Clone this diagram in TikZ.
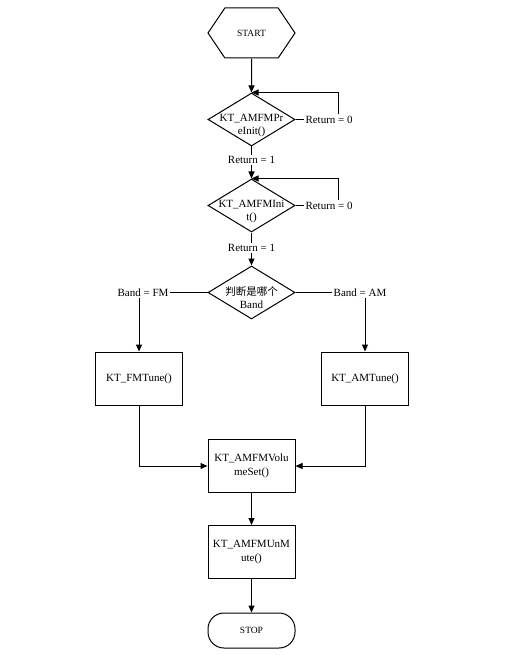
\documentclass[tikz,border=0pt]{standalone}
\usepackage{fontspec}
\setmainfont{Liberation Serif}
\newfontfamily\cjk{Noto Sans CJK SC}
\usetikzlibrary{shapes.geometric,shapes.symbols,arrows.meta}

\begin{document}
\begin{tikzpicture}[x=1pt, y=-1pt, line width=1pt,
    font=\fontsize{11}{13.5}\selectfont,
    arr/.style={-{Triangle[length=7pt,width=6pt]}},
    startbox/.style={draw, signal, signal to=east and west, signal pointer angle=112,
      minimum width=87pt, minimum height=50pt, inner sep=0pt, font=\fontsize{9.5}{11}\selectfont},
    stopbox/.style={draw, rounded corners=16pt, minimum width=87pt, minimum height=35pt,
      inner sep=0pt, font=\fontsize{9.5}{11}\selectfont},
    dec/.style={draw, diamond, minimum width=87pt, minimum height=53pt, inner sep=0pt},
    proc/.style={draw, rectangle, align=center, minimum width=87pt, minimum height=53pt, inner sep=2pt},
    lbl/.style={inner sep=1pt, fill=white},
    txt/.style={align=center, inner sep=0pt}]
  \useasboundingbox [fill=white] (0,0) rectangle (517,655);
  % start and checks
  \node [startbox] (start) at (251.5,33) {START};
  \node [dec] (d1) at (251.5,119.5) {};
  \node [txt] (t1) at ([yshift=-6pt]d1.center) {KT\_AMFMPr\\eInit()};
  \node [dec] (d2) at (251.5,205.5) {};
  \node [txt] (t2) at ([yshift=-6pt]d2.center) {KT\_AMFMIni\\t()};
  \node [dec] (d3) at (251.5,292.5) {};
  \node [txt] (t3) at ([yshift=-5pt]d3.center) {{\cjk\fontsize{10.5}{13}\selectfont 判断是哪个}\\Band};
  % branch labels
  \node [lbl, anchor=west] (r0a) at (304,119.5) {Return = 0};
  \node [lbl, anchor=west] (r0b) at (304,205.5) {Return = 0};
  \node [lbl] (r1a) at (251.5,160) {Return = 1};
  \node [lbl] (r1b) at (251.5,248) {Return = 1};
  \node [lbl] (bfm) at (143,292.5) {Band = FM};
  \node [lbl] (bam) at (360,292.5) {Band = AM};
  % process boxes
  \node [proc] (fm) at (139,378.5) {KT\_FMTune()};
  \node [proc] (am) at (365,378.5) {KT\_AMTune()};
  \node [proc] (vol) at (251.5,466) {KT\_AMFMVolu\\meSet()};
  \node [proc] (unm) at (251.5,552) {KT\_AMFMUnM\\ute()};
  \node [stopbox] (stop) at (251.5,630.5) {STOP};
  % connectors
  \draw [arr] (start) -- (d1.north);
  \draw (d1.east) -- (r0a.west);
  \draw [arr] ([xshift=-16pt]r0a.north east) |- (d1.north);
  \draw (d1.south) -- (r1a.north);
  \draw [arr] (r1a.south) -- (d2.north);
  \draw (d2.east) -- (r0b.west);
  \draw [arr] ([xshift=-16pt]r0b.north east) |- (d2.north);
  \draw (d2.south) -- (r1b.north);
  \draw [arr] (r1b.south) -- (d3.north);
  \draw (d3.west) -- (bfm.east);
  \draw (d3.east) -- (bam.west);
  \draw [arr] (bfm.south -| fm.north) -- (fm.north);
  \draw [arr] (bam.south -| am.north) -- (am.north);
  \draw [arr] (fm.south) |- (vol.west);
  \draw [arr] (am.south) |- (vol.east);
  \draw [arr] (vol) -- (unm);
  \draw [arr] (unm) -- (stop);
\end{tikzpicture}
\end{document}
